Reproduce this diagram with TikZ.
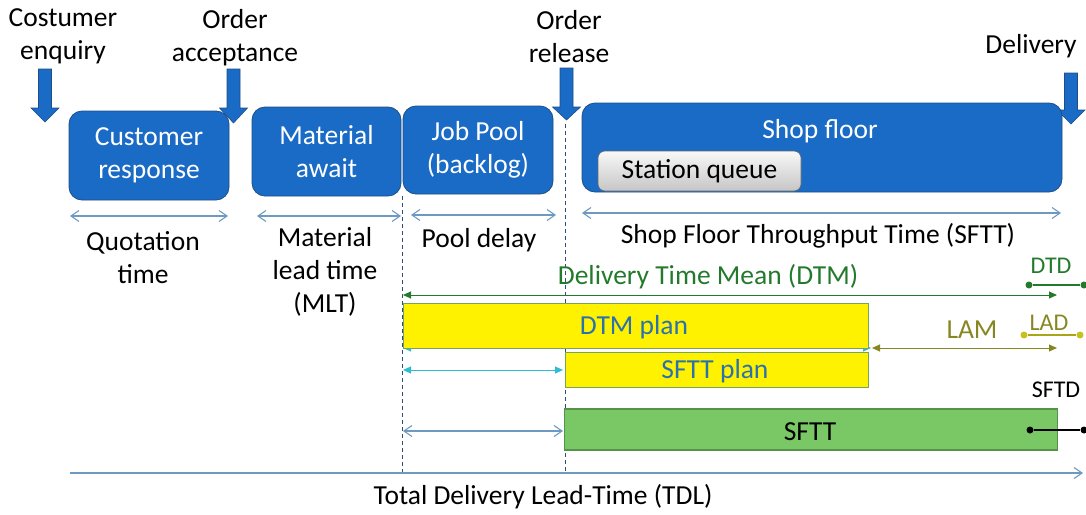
\documentclass[tikz,border=0pt]{standalone}
\usepackage{fontspec}
\setmainfont{Carlito}
\usetikzlibrary{arrows.meta}
\definecolor{boxblue}{HTML}{1A6BC6}
\definecolor{boxedge}{HTML}{1F4E85}
\definecolor{steel}{HTML}{6E9AC2}
\definecolor{dtmgreen}{HTML}{237A2C}
\definecolor{olive}{HTML}{878722}
\definecolor{ladyellow}{HTML}{C6C21C}
\definecolor{cyanarr}{HTML}{2DBCD2}
\definecolor{planblue}{HTML}{2A72AE}
\definecolor{yedge}{HTML}{76A45A}
\definecolor{sfttfill}{HTML}{7AC765}
\definecolor{sfttedge}{HTML}{55924A}
\definecolor{dashblue}{HTML}{2C4E78}
\newcommand\blockarr[4]{%
  \filldraw[fill=boxblue,draw=boxedge,line width=0.6pt]
    (#1-6.5,#2) -- (#1+6.5,#2) -- (#1+6.5,#3) -- (#1+14,#3) -- (#1,#4)
    -- (#1-14,#3) -- (#1-6.5,#3) -- cycle;}
\begin{document}
\begin{tikzpicture}[x=1pt,y=-1pt,
  txt/.style={font=\fontsize{27.5}{33}\selectfont,align=center,inner sep=0pt},
  small/.style={font=\fontsize{24}{28}\selectfont,inner sep=0pt},
  bluebox/.style={draw=boxedge,fill=boxblue,line width=0.8pt,rounded corners=13pt,
     text=white,font=\fontsize{27.5}{33}\selectfont,align=center,inner sep=0pt},
  plan/.style={draw=yedge,fill=yellow,line width=0.8pt,inner sep=0pt},
  span/.style={draw=steel,line width=1.1pt,{Straight Barb[length=8pt,width=11pt]}-{Straight Barb[length=8pt,width=11pt]}},
  filltip/.style={line width=1.1pt,{Triangle[length=8pt,width=7pt]}-{Triangle[length=8pt,width=7pt]}},
  vdash/.style={draw=dashblue,line width=0.7pt,dash pattern=on 4pt off 3pt},
  dot/.style={circle,inner sep=0pt,minimum size=7pt}
]
\useasboundingbox (0,0) rectangle (1086,514);

% event labels and block arrows
\node[txt] (enq) at (63,36) {Costumer\\enquiry};
\node[txt] (acc) at (235,38) {Order\\acceptance};
\node[txt] (rel) at (569,37) {Order\\release};
\node[txt] (del) at (1031,46) {Delivery};
\blockarr{45}{69}{108}{122}
\blockarr{233.5}{69}{108}{123}
\blockarr{566.5}{68}{107}{120}
\blockarr{1071}{73}{110}{124}

% dashed guides
\coordinate (d1t) at (402,196);
\coordinate (d1b) at (402,473);
\coordinate (d2t) at (565,124);
\coordinate (d2b) at (565,473);
\draw[vdash] (d1t) -- (d1b);
\draw[vdash] (d2t) -- (d2b);

% process boxes
\node[bluebox,minimum width=160pt,minimum height=89pt] (cr) at (149,155.5) {Customer\\response};
\node[bluebox,minimum width=149pt,minimum height=89pt] (ma) at (326.5,151.5) {Material\\await};
\node[bluebox,minimum width=150pt,minimum height=88pt] (jp) at (478,150) {Job Pool\\(backlog)};
\node[bluebox,minimum width=480pt,minimum height=89pt] (sf) at (822,147.5) {};
\node[txt,text=white] (sflbl) at (820,131) {Shop floor};
\node[draw=gray!80!black,line width=0.6pt,top color=white!95!gray,bottom color=gray!45,
  rounded corners=7pt,minimum width=203pt,minimum height=40pt,inner sep=0pt,
  font=\fontsize{27.5}{30}\selectfont] (sq) at (699.5,171) {Station queue};

% spans under boxes
\coordinate (q1) at (70,216);  \coordinate (q2) at (228,216);
\coordinate (m1) at (257,216); \coordinate (m2) at (401,216);
\coordinate (p1) at (411,215); \coordinate (p2) at (556,215);
\coordinate (s1) at (582,213); \coordinate (s2) at (1061,213);
\draw[span] (q1) -- (q2);
\draw[span] (m1) -- (m2);
\draw[span] (p1) -- (p2);
\draw[span] (s1) -- (s2);
\node[txt] (qt) at (143,258) {Quotation\\time};
\node[txt] (mlt) at (325,272) {Material\\lead time\\(MLT)};
\node[txt] (pd) at (479,240) {Pool delay};
\node[txt] (sftt) at (818,236) {Shop Floor Throughput Time (SFTT)};

% DTM
\coordinate (dtm1) at (403,295); \coordinate (dtm2) at (1057,295);
\draw[filltip,draw=dtmgreen,line width=1pt] (dtm1) -- (dtm2);
\node[txt,text=dtmgreen] (dtmlbl) at (708,277) {Delivery Time Mean (DTM)};
\node[dot,fill=dtmgreen] (dtd1) at (1029,285) {};
\node[dot,fill=dtmgreen] (dtd2) at (1084,285) {};
\draw[dtmgreen,line width=1.2pt] (dtd1) -- (dtd2);
\node[small,text=dtmgreen] (dtdlbl) at (1051,266) {DTD};

% hidden cyan arrow under DTM plan
\coordinate (c1) at (403,348); \coordinate (c2) at (871,348);
\draw[filltip,draw=cyanarr,fill=cyanarr,line width=1pt] (c1) -- (c2);

% plan boxes
\node[plan,minimum width=465pt,minimum height=45pt] (dtmp) at (635.5,325.5) {};
\node[txt,text=planblue] (dtmplbl) at (634,327) {DTM plan};
\node[plan,minimum width=303pt,minimum height=35pt] (sftp) at (716.5,369.5) {};
\node[txt,text=planblue] (sftplbl) at (715,371) {SFTT plan};

% LAM
\coordinate (l1) at (872,348); \coordinate (l2) at (1057,348);
\draw[filltip,draw=olive,fill=olive,line width=1pt] (l1) -- (l2);
\node[txt,text=olive] (lamlbl) at (972,330) {LAM};
\node[dot,fill=ladyellow] (lad1) at (1024,335) {};
\node[dot,fill=ladyellow] (lad2) at (1080,335) {};
\draw[ladyellow!85!black,line width=1.2pt] (lad1) -- (lad2);
\node[small,text=olive] (ladlbl) at (1049,323) {LAD};

% cyan pool arrow
\coordinate (cp1) at (403,370); \coordinate (cp2) at (563,370);
\draw[filltip,draw=cyanarr,fill=cyanarr,line width=1pt] (cp1) -- (cp2);

% SFTT bar
\node[draw=sfttedge,fill=sfttfill,line width=1.2pt,minimum width=493pt,minimum height=41pt,
  inner sep=0pt] (sfttbar) at (811,429.5) {};
\node[txt] (sfttlbl) at (810,432) {SFTT};
\node[dot,fill=black] (sd1) at (1030,430) {};
\node[dot,fill=black] (sd2) at (1084,430) {};
\draw[black,line width=1.2pt] (sd1) -- (sd2);
\node[small] (sftdlbl) at (1056,390) {SFTD};
\coordinate (b1) at (403,431); \coordinate (b2) at (563,431);
\draw[span] (b1) -- (b2);

% TDL
\coordinate (t1) at (70,473); \coordinate (t2) at (1083,473);
\draw[draw=steel,line width=1.1pt,-{Straight Barb[length=8pt,width=11pt]}] (t1) -- (t2);
\node[txt] (tdl) at (543,497) {Total Delivery Lead-Time (TDL)};
\end{tikzpicture}
\end{document}
